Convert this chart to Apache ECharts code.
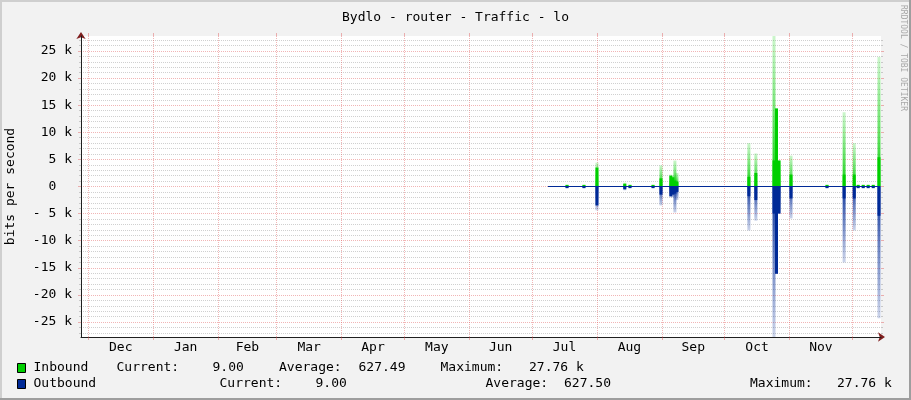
<!DOCTYPE html>
<html><head><meta charset="utf-8">
<script src="https://cdn.jsdelivr.net/npm/echarts@6/dist/echarts.min.js"></script>
<style>html,body{margin:0;padding:0;background:#f2f2f2}#c{width:911px;height:400px}</style>
</head><body><div id="c"></div>
<script>
// ---------------- data ----------------
const titleText = 'Bydlo - router - Traffic - lo';
const yAxisTitle = 'bits per second';
const watermarkText = 'RRDTOOL / TOBI OETIKER';
const monthStarts = ['2013-12-01','2014-01-01','2014-02-01','2014-03-01','2014-04-01','2014-05-01','2014-06-01','2014-07-01','2014-08-01','2014-09-01','2014-10-01','2014-11-01','2014-12-01'];
const monthLabels = ['Dec','Jan','Feb','Mar','Apr','May','Jun','Jul','Aug','Sep','Oct','Nov'];
const yMajorTicks = [-25000,-20000,-15000,-10000,-5000,0,5000,10000,15000,20000,25000];
const yMinorTicks = [-27000,-26000,-24000,-23000,-22000,-21000,-19000,-18000,-17000,-16000,-14000,-13000,-12000,-11000,-9000,-8000,-7000,-6000,-4000,-3000,-2000,-1000,1000,2000,3000,4000,6000,7000,8000,9000,11000,12000,13000,14000,16000,17000,18000,19000,21000,22000,23000,24000,26000,27000];
const xStart = '2013-11-27T12:00';
const xEnd = '2014-12-14T17:00';
const yLimit = 27760;

const spikeTimes = ['2014-07-17T17:00','2014-07-25T19:00','2014-08-01T00:00','2014-08-14T07:00','2014-08-16T19:00','2014-08-27T19:00','2014-08-31T14:00','2014-09-05T07:00','2014-09-06T07:00','2014-09-07T06:00','2014-09-08T05:00','2014-10-12T14:00','2014-10-15T22:00','2014-10-24T14:00','2014-10-25T19:00','2014-10-27T00:00','2014-11-01T17:00','2014-11-18T22:00','2014-11-27T02:00','2014-12-01T22:00','2014-12-03T19:00','2014-12-06T05:00','2014-12-08T14:00','2014-12-11T00:00','2014-12-13T18:00'];
const inMax  = [300,300,4400,700,300,300,3900,2200,2000,4800,2500,8000,6100,27760,14400,4800,5700,300,13700,8000,300,300,300,300,23900];
const inAvg  = [300,300,3500,500,300,300,1500,2000,1700,1100,900,1800,2500,4800,14400,4800,2200,300,2200,2200,300,300,300,300,5400];
const outMax = [-300,-300,-4400,-700,-300,-300,-3500,-2000,-2000,-4800,-2500,-8100,-6300,-27760,-16100,-5000,-5900,-300,-14000,-8100,-300,-300,-300,-300,-24300];
const outAvg = [-300,-300,-3500,-500,-300,-300,-1500,-1800,-1500,-1300,-1000,-1800,-2500,-5000,-16100,-5000,-2200,-300,-2200,-2200,-300,-300,-300,-300,-5400];
const baselineTimes = ['2014-07-08T14:00','2014-12-14T10:00'];
const baselineValues = [0,0];

const legendNames = ['Inbound','Outbound'];
const legendCurrent = ['9.00','9.00'];
const legendAverage = ['627.49','627.50'];
const legendMaximum = ['27.76 k','27.76 k'];

// ---------------- helpers ----------------
const ts = s => Date.parse(s.length === 10 ? s + 'T00:00:00Z' : s + ':00Z');
const monthStartTs = monthStarts.map(ts);
const monthMidTs = monthLabels.map((_, i) => (monthStartTs[i] + monthStartTs[i + 1]) / 2);
const xMin = ts(xStart), xMax = ts(xEnd);

const FONT = 'DejaVu Sans Mono';
const C_IN = '#00cf00', C_OUT = '#002a97';
const C_MINOR = 'rgba(143,143,143,0.42)';
const C_MAJOR = 'rgba(222,79,79,0.42)';
const C_ARROW = '#801f1f', C_AXIS = '#1f1f1f';

function yLabel(v) {
  if (v === 0) return '0  ';
  const a = Math.abs(v) / 1000;
  if (v < 0) return '-' + String(a).padStart(2, ' ') + ' k';
  return String(a) + ' k';
}

const gradIn = new echarts.graphic.LinearGradient(0, 0, 0, 1, [
  { offset: 0, color: 'rgba(0,207,0,0.2)' },
  { offset: 0.6, color: 'rgba(0,207,0,0.62)' },
  { offset: 1, color: 'rgba(0,207,0,0.95)' }
]);
const gradOut = new echarts.graphic.LinearGradient(0, 0, 0, 1, [
  { offset: 0, color: 'rgba(0,42,151,0.95)' },
  { offset: 0.4, color: 'rgba(0,42,151,0.62)' },
  { offset: 1, color: 'rgba(0,42,151,0.2)' }
]);

const gridLines = [];
yMinorTicks.forEach(v => gridLines.push({ yAxis: v, lineStyle: { color: C_MINOR, type: [1, 1], width: 1 } }));
yMajorTicks.forEach(v => gridLines.push({ yAxis: v, lineStyle: { color: C_MAJOR, type: [1, 1], width: 1 } }));
monthStartTs.forEach(v => gridLines.push({ xAxis: v, lineStyle: { color: C_MAJOR, type: [1, 1], width: 1 } }));

const pair = (times, vals) => times.map((t, i) => [ts(t), vals[i]]);
const barBase = { type: 'bar', barWidth: 3, barGap: '-100%', xAxisIndex: 0, yAxisIndex: 0, silent: true, animation: false };

// ---------------- legend graphics ----------------
const legendGraphics = [];
const rowY = [368, 384];
const colX = [
  [33.5, 116.5, 212.5, 279, 358.5, 440.5, 529],
  [33.5, 219.5, 315.5, 485.5, 564, 750, 837]
];
const boxColors = [C_IN, C_OUT];
legendNames.forEach((name, r) => {
  legendGraphics.push({ type: 'rect', shape: { x: 17.5, y: rowY[r] - 4.5, width: 8, height: 9 }, style: { fill: boxColors[r], stroke: '#000', lineWidth: 1 } });
  const texts = [name, 'Current:', legendCurrent[r], 'Average:', legendAverage[r], 'Maximum:', legendMaximum[r]];
  texts.forEach((t, i) => legendGraphics.push({
    type: 'text', x: colX[r][i], y: rowY[r],
    style: { text: t, font: '13px "' + FONT + '"', fill: '#000', verticalAlign: 'middle', align: 'left' }
  }));
});

const arrowAxisX = {
  type: 'value', min: xMin, max: xMax, position: 'bottom', z: 1,
  axisLine: { show: true, onZero: false, symbol: ['none', 'arrow'], symbolSize: [7, 7], symbolOffset: [0, 4], lineStyle: { color: C_ARROW, opacity: 0 } },
  axisTick: { show: false }, axisLabel: { show: false }, splitLine: { show: false }
};
const arrowAxisY = {
  type: 'value', min: -yLimit, max: yLimit, position: 'left', z: 1,
  axisLine: { show: true, onZero: false, symbol: ['none', 'arrow'], symbolSize: [7, 7], symbolOffset: [0, 4], lineStyle: { color: C_ARROW, opacity: 0 } },
  axisTick: { show: false }, axisLabel: { show: false }, splitLine: { show: false }
};

const chart = echarts.init(document.getElementById('c'), null, { renderer: 'canvas' });
chart.setOption({
  animation: false,
  backgroundColor: '#f2f2f2',
  textStyle: { fontFamily: FONT },
  title: {
    text: titleText, left: 'center', top: 6,
    textStyle: { fontFamily: FONT, fontSize: 13, fontWeight: 'normal', color: '#000' }
  },
  grid: { left: 81, top: 36, width: 800, height: 301, show: true, backgroundColor: '#fff', borderWidth: 0, outerBoundsMode: 'none', containLabel: false },
  xAxis: [
    {
      type: 'value', min: xMin, max: xMax, position: 'bottom', z: 5,
      axisLine: { show: true, onZero: false, lineStyle: { color: C_AXIS, width: 1 } },
      axisTick: { show: true, customValues: monthStartTs, length: 3, lineStyle: { color: C_MAJOR } },
      axisLabel: {
        show: true, customValues: monthMidTs, margin: 4,
        formatter: (v) => monthLabels[monthMidTs.indexOf(v)] || '',
        fontFamily: FONT, fontSize: 13, color: '#000'
      },
      splitLine: { show: false }
    },
    {
      type: 'value', min: xMin, max: xMax, position: 'top',
      axisLine: { show: false, onZero: false },
      axisTick: { show: true, customValues: monthStartTs, length: 3, lineStyle: { color: C_MAJOR } },
      axisLabel: { show: false }, splitLine: { show: false }
    },
    arrowAxisX
  ],
  yAxis: [
    {
      type: 'value', min: -yLimit, max: yLimit, position: 'left', z: 5,
      name: yAxisTitle, nameLocation: 'middle', nameRotate: 90, nameGap: 64,
      nameTextStyle: { fontFamily: FONT, fontSize: 13, color: '#000' },
      axisLine: { show: true, onZero: false, lineStyle: { color: C_AXIS, width: 1 } },
      axisTick: { show: true, customValues: yMajorTicks, length: 3, lineStyle: { color: C_MAJOR } },
      axisLabel: { show: true, customValues: yMajorTicks, margin: 9, formatter: yLabel, fontFamily: FONT, fontSize: 13, color: '#000' },
      splitLine: { show: false }
    },
    {
      type: 'value', min: -yLimit, max: yLimit, position: 'left',
      axisLine: { show: false, onZero: false },
      axisTick: { show: true, customValues: yMinorTicks, length: 2, lineStyle: { color: C_MINOR } },
      axisLabel: { show: false }, splitLine: { show: false }
    },
    {
      type: 'value', min: -yLimit, max: yLimit, position: 'right',
      axisLine: { show: false, onZero: false },
      axisTick: { show: true, customValues: yMajorTicks, length: 3, lineStyle: { color: C_MAJOR } },
      axisLabel: { show: false }, splitLine: { show: false }
    },
    {
      type: 'value', min: -yLimit, max: yLimit, position: 'right',
      axisLine: { show: false, onZero: false },
      axisTick: { show: true, customValues: yMinorTicks, length: 2, lineStyle: { color: C_MINOR } },
      axisLabel: { show: false }, splitLine: { show: false }
    },
    arrowAxisY
  ],
  series: [
    {
      type: 'line', name: 'grid', xAxisIndex: 0, yAxisIndex: 0, z: 1, silent: true,
      data: [[xMin, 0]], showSymbol: false, symbol: 'none', lineStyle: { opacity: 0 },
      markLine: { z: 1, silent: true, symbol: ['none', 'none'], label: { show: false }, animation: false, data: gridLines }
    },
    Object.assign({}, barBase, { name: 'Inbound max', z: 2, data: pair(spikeTimes, inMax), itemStyle: { color: gradIn } }),
    Object.assign({}, barBase, { name: 'Outbound max', z: 2, data: pair(spikeTimes, outMax), itemStyle: { color: gradOut } }),
    Object.assign({}, barBase, { name: 'Inbound', z: 3, data: pair(spikeTimes, inAvg), itemStyle: { color: C_IN } }),
    Object.assign({}, barBase, { name: 'Outbound', z: 3, data: pair(spikeTimes, outAvg), itemStyle: { color: C_OUT } }),
    {
      type: 'line', name: 'baseline', xAxisIndex: 0, yAxisIndex: 0, z: 4, silent: true,
      data: pair(baselineTimes, baselineValues), symbol: 'none', lineStyle: { color: C_OUT, width: 1 }
    }
  ],
  graphic: [
    { type: 'rect', shape: { x: 0, y: 0, width: 911, height: 2 }, style: { fill: '#cfcfcf' }, silent: true },
    { type: 'rect', shape: { x: 0, y: 0, width: 2, height: 400 }, style: { fill: '#cfcfcf' }, silent: true },
    { type: 'rect', shape: { x: 0, y: 398, width: 911, height: 2 }, style: { fill: '#9e9e9e' }, silent: true },
    { type: 'rect', shape: { x: 909, y: 0, width: 2, height: 400 }, style: { fill: '#9e9e9e' }, silent: true },
    {
      type: 'text', x: 903, y: 5, rotation: -Math.PI / 2, silent: true,
      style: { text: watermarkText, font: '8px "' + FONT + '"', fill: '#a8a8a8', align: 'left', verticalAlign: 'middle' }
    }
  ].concat(legendGraphics)
});
</script></body></html>
